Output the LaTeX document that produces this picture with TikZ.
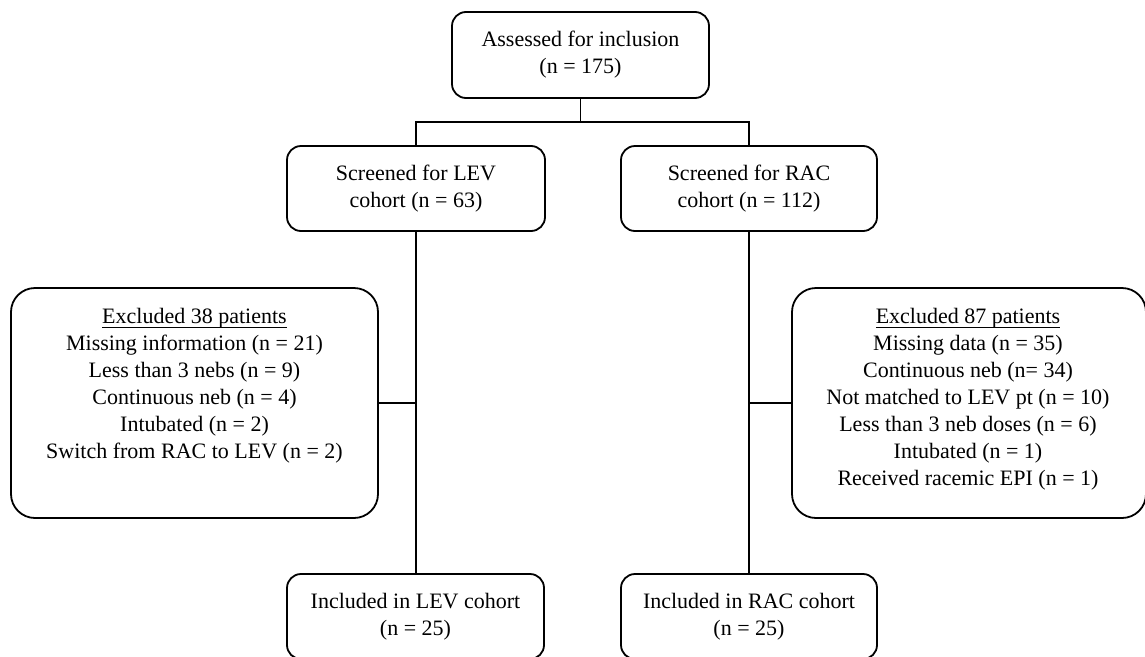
\documentclass[tikz,border=0pt]{standalone}
\usepackage{fontspec}
\setmainfont{Liberation Serif}
\newcommand\ulin[1]{\setbox0=\hbox{#1}\rlap{\rule[-4.5pt]{\wd0}{1.2pt}}\box0}
\begin{document}
\begin{tikzpicture}[x=1pt,y=-1pt,
  every node/.style={font=\fontsize{22}{27}\selectfont},
  flowbox/.style={draw, line width=1.8pt, rounded corners=14pt, align=center, inner sep=0pt},
  exbox/.style={draw, line width=1.8pt, rounded corners=24pt, inner sep=0pt},
  extext/.style={align=center, inner sep=0pt, anchor=north},
  conn/.style={line width=1.8pt}]
\useasboundingbox (0,0) rectangle (1145,656);
\begin{scope}
\clip (0,0) rectangle (1145,656);
\node[flowbox, minimum width=257pt, minimum height=86pt] (top) at (580.5,55) {Assessed for inclusion\\(n = 175)};
\node[flowbox, minimum width=258pt, minimum height=85pt] (lev) at (416,188.5) {Screened for LEV\\cohort (n = 63)};
\node[flowbox, minimum width=256pt, minimum height=85pt] (rac) at (749,188.5) {Screened for RAC\\cohort (n = 112)};
\node[exbox, minimum width=367pt, minimum height=230pt] (exl) at (194.5,403) {};
\node[exbox, minimum width=354pt, minimum height=230pt] (exr) at (969,403) {};
\node[extext] (exltxt) at (194.5,308) {\ulin{Excluded 38 patients}\\Missing information (n = 21)\\Less than 3 nebs (n = 9)\\Continuous neb (n = 4)\\Intubated (n = 2)\\Switch from RAC to LEV (n = 2)};
\node[extext] (exrtxt) at (968,308) {\ulin{Excluded 87 patients}\\Missing data (n = 35)\\Continuous neb (n= 34)\\Not matched to LEV pt (n = 10)\\Less than 3 neb doses (n = 6)\\Intubated (n = 1)\\Received racemic EPI (n = 1)};
\node[flowbox, minimum width=257pt, minimum height=85pt] (incl) at (415.5,616.5) {Included in LEV cohort\\(n = 25)};
\node[flowbox, minimum width=256pt, minimum height=85pt] (incr) at (749,616.5) {Included in RAC cohort\\(n = 25)};
\coordinate (jl) at (416,122);
\coordinate (jr) at (749,122);
\draw[conn] (top.south) -- (top.south |- jl);
\draw[conn] (lev.north) -- (jl) -- (jr) -- (rac.north);
\draw[conn] (lev.south) -- (incl.north -| lev.south);
\draw[conn] (rac.south) -- (incr.north);
\draw[conn] (exl.east) -- (exl.east -| lev.south);
\draw[conn] (exr.west) -- (exr.west -| rac.south);
\end{scope}
\end{tikzpicture}
\end{document}
